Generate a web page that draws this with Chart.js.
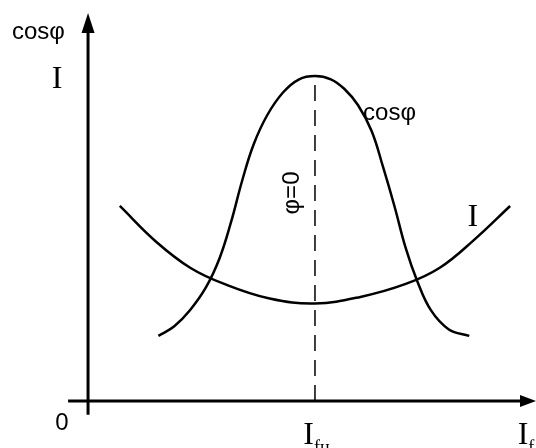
<!DOCTYPE html>
<html>
<head>
<meta charset="utf-8">
<title>cosφ, I = f(If)</title>
<script src="https://cdn.jsdelivr.net/npm/chart.js@4.4.1/dist/chart.umd.min.js"></script>
<style>
  html, body { margin: 0; padding: 0; background: #fff; }
  #vcurve { display: block; }
</style>
</head>
<body>
<canvas id="vcurve" width="536" height="448"></canvas>
<script>
// Excitation current, relative to rated (If / Ifн)
const cosX = [0.31, 0.38, 0.45, 0.52, 0.58, 0.63, 0.68, 0.73, 0.79, 0.86, 0.93, 1.00, 1.07, 1.13, 1.19, 1.25, 1.30, 1.35, 1.40, 1.45, 1.51, 1.59, 1.68];
const cosY = [0.20, 0.23, 0.28, 0.35, 0.44, 0.55, 0.68, 0.79, 0.88, 0.95, 0.99, 1.00, 0.99, 0.96, 0.91, 0.83, 0.72, 0.60, 0.47, 0.37, 0.28, 0.22, 0.20];

const curX = [0.14, 0.30, 0.45, 0.60, 0.80, 1.00, 1.20, 1.40, 1.55, 1.70, 1.86];
const curY = [0.60, 0.49, 0.41, 0.36, 0.315, 0.30, 0.32, 0.36, 0.41, 0.495, 0.60];

// phi = 0 marker at rated excitation
const ratedX = [1.00, 1.00];
const ratedY = [0.00, 1.00];

const xRange = [-0.388, 1.974];
const yRange = [-0.145, 1.234];

(function () {
  'use strict';

  const toPoints = (xs, ys) => xs.map((x, i) => ({ x: x, y: ys[i] }));

  const SANS = '"Liberation Sans", Arial, sans-serif';
  const SERIF = '"Liberation Serif", "Times New Roman", serif';

  // axes with arrows + text labels, placed through the scales
  const sketchPlugin = {
    id: 'sketch',
    afterDatasetsDraw: function (chart) {
      const c = chart.ctx;
      const sx = chart.scales.x;
      const sy = chart.scales.y;
      const px = v => sx.getPixelForValue(v);
      const py = v => sy.getPixelForValue(v);

      c.save();
      c.strokeStyle = '#000';
      c.fillStyle = '#000';
      c.lineWidth = 3;

      // x axis
      const x0 = px(0), y0 = py(0);
      const xEnd = px(xRange[1]);
      c.beginPath();
      c.moveTo(px(-0.088), y0);
      c.lineTo(xEnd - 10, y0);
      c.stroke();
      c.beginPath();
      c.moveTo(xEnd, y0);
      c.lineTo(xEnd - 16, y0 - 6);
      c.lineTo(xEnd - 16, y0 + 6);
      c.closePath();
      c.fill();

      // y axis
      const yTop = py(1.194);
      c.beginPath();
      c.moveTo(x0, py(-0.043));
      c.lineTo(x0, yTop + 10);
      c.stroke();
      c.beginPath();
      c.moveTo(x0, yTop);
      c.lineTo(x0 - 6.5, yTop + 20);
      c.lineTo(x0 + 6.5, yTop + 20);
      c.closePath();
      c.fill();

      c.textBaseline = 'middle';

      // axis names
      c.font = '24px ' + SANS;
      c.textAlign = 'left';
      c.fillText('cosφ', 12, py(1.135));
      c.fillText('cosφ', px(1.212), py(0.886));
      c.textAlign = 'center';
      c.fillText('0', px(-0.115), py(-0.068));

      c.font = '32px ' + SERIF;
      c.fillText('I', px(-0.136), py(0.99));
      c.fillText('I', px(1.696), py(0.563));

      // If labels under the axis
      c.textBaseline = 'alphabetic';
      c.textAlign = 'right';
      c.font = '32px ' + SERIF;
      c.fillText('I', px(1.0) - 1, 444);
      c.fillText('I', px(1.94), 444);
      c.textAlign = 'left';
      c.font = '18px ' + SERIF;
      c.fillText('fн', px(1.0) - 1, 453);
      c.fillText('f', px(1.94), 453);

      // phi = 0, rotated along the dashed line
      c.save();
      c.translate(px(0.899), py(0.64));
      c.rotate(-Math.PI / 2);
      c.font = '24px ' + SANS;
      c.textAlign = 'center';
      c.textBaseline = 'middle';
      c.fillText('φ=0', 0, 0);
      c.restore();

      c.restore();
    }
  };

  const ctx = document.getElementById('vcurve');

  new Chart(ctx, {
    type: 'scatter',
    data: {
      datasets: [{
        label: 'cosφ',
        data: toPoints(cosX, cosY),
        showLine: true,
        borderColor: '#000',
        borderWidth: 2.5,
        pointRadius: 0,
        tension: 0.4,
        fill: false
      },
      {
        label: 'I',
        data: toPoints(curX, curY),
        showLine: true,
        borderColor: '#000',
        borderWidth: 2.5,
        pointRadius: 0,
        tension: 0.4,
        fill: false
      },
      {
        label: 'φ=0',
        data: toPoints(ratedX, ratedY),
        showLine: true,
        borderColor: '#000',
        borderWidth: 1.5,
        borderDash: [16, 9],
        pointRadius: 0,
        fill: false
      }]
    },
    options: {
      responsive: false,
      animation: false,
      layout: { padding: 0 },
      scales: {
        x: { type: 'linear', min: xRange[0], max: xRange[1], display: false },
        y: { type: 'linear', min: yRange[0], max: yRange[1], display: false }
      },
      plugins: {
        legend: { display: false },
        tooltip: { enabled: false }
      }
    },
    plugins: [sketchPlugin]
  });
})();
</script>
</body>
</html>
